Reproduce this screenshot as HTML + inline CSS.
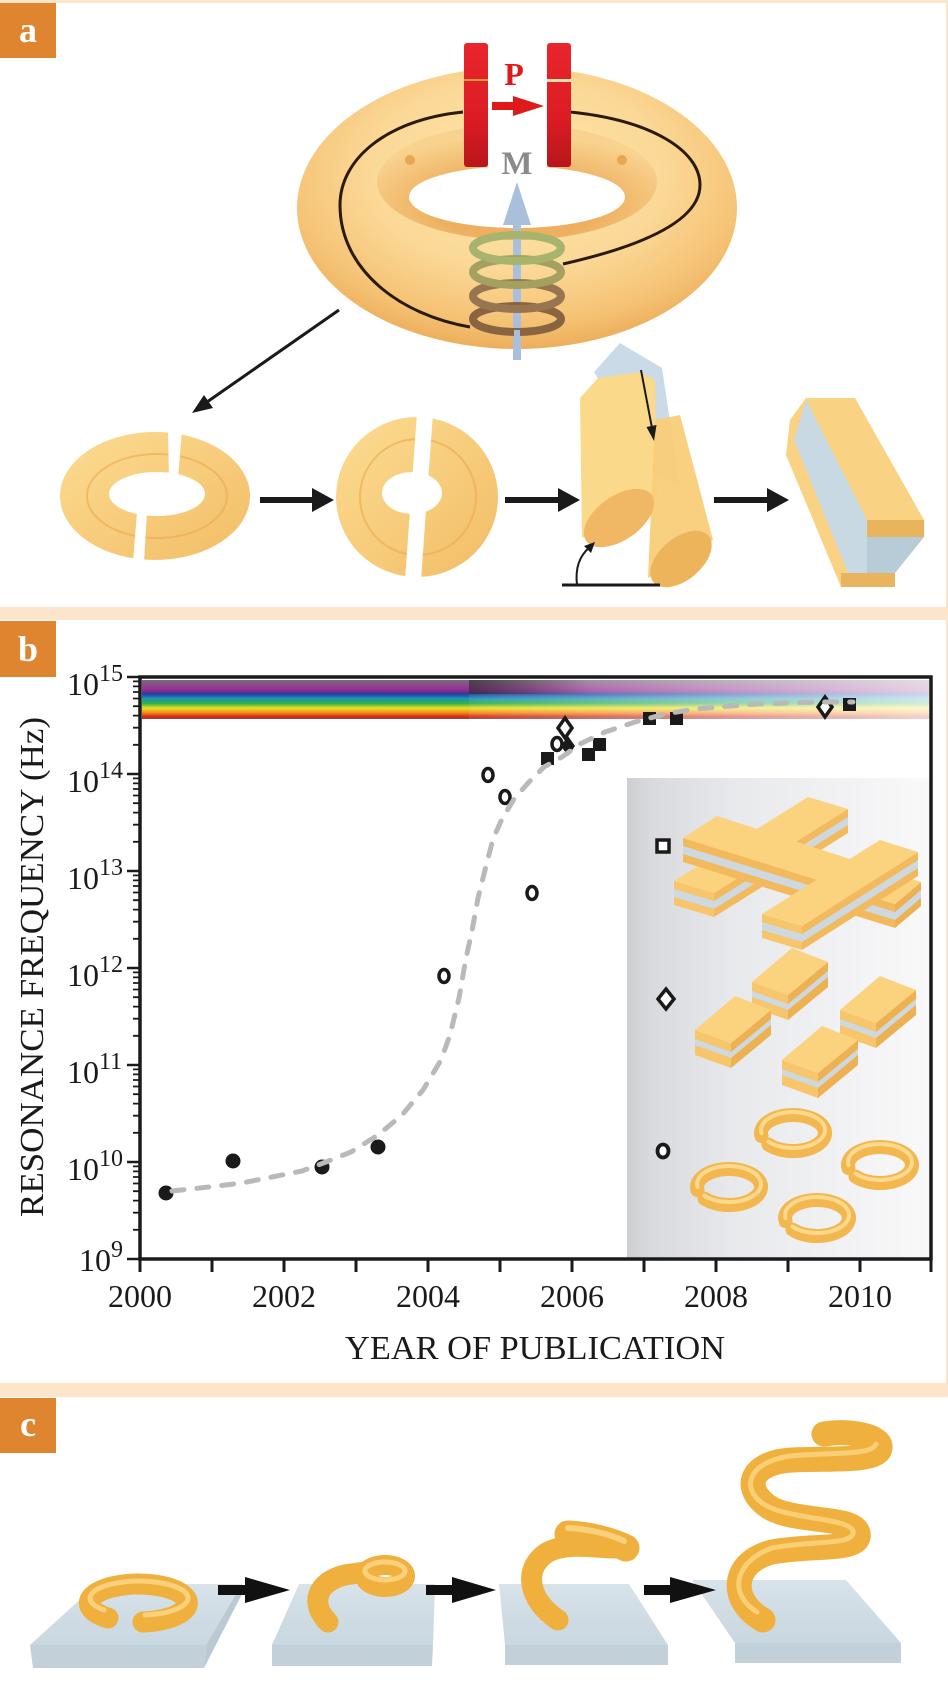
<!DOCTYPE html>
<html><head><meta charset="utf-8"><style>
html,body{margin:0;padding:0;background:#fff}
svg{display:block}
text{font-family:"Liberation Serif",serif}
</style></head><body>
<svg xmlns="http://www.w3.org/2000/svg" width="948" height="1691" viewBox="0 0 948 1691">
<defs>
<radialGradient id="tor" cx="0.5" cy="0.38" r="0.62">
<stop offset="0" stop-color="#fde8ae"/><stop offset="0.55" stop-color="#fbd896"/><stop offset="0.85" stop-color="#f5c274"/><stop offset="1" stop-color="#ecae5c"/></radialGradient>
<radialGradient id="inw" cx="0.5" cy="0.7" r="0.6">
<stop offset="0.5" stop-color="#eeb060"/><stop offset="1" stop-color="#f8d28e"/></radialGradient>
<linearGradient id="gold" x1="0" y1="0" x2="1" y2="1"><stop offset="0" stop-color="#fcdc92"/><stop offset="1" stop-color="#f2bd66"/></linearGradient>
<linearGradient id="red" x1="0" y1="0" x2="0" y2="1"><stop offset="0" stop-color="#e8262c"/><stop offset="0.6" stop-color="#dc1c24"/><stop offset="1" stop-color="#b8161c"/></linearGradient>
<linearGradient id="rain" x1="0" y1="0" x2="0" y2="1">
<stop offset="0" stop-color="#7a6a80"/><stop offset="0.12" stop-color="#8a4d8c"/><stop offset="0.25" stop-color="#9a2a8e"/><stop offset="0.36" stop-color="#2a3c9c"/><stop offset="0.48" stop-color="#1898b8"/><stop offset="0.6" stop-color="#30ae4a"/><stop offset="0.72" stop-color="#ece21e"/><stop offset="0.84" stop-color="#f28a1a"/><stop offset="0.94" stop-color="#d8261c"/><stop offset="1" stop-color="#8a4a40"/></linearGradient>
<linearGradient id="fade" x1="0" y1="0" x2="1" y2="0"><stop offset="0" stop-color="#fff" stop-opacity="0.08"/><stop offset="0.5" stop-color="#fff" stop-opacity="0.45"/><stop offset="1" stop-color="#fff" stop-opacity="0.78"/></linearGradient>
<linearGradient id="dark" x1="0" y1="0" x2="1" y2="0"><stop offset="0" stop-color="#222" stop-opacity="0.6"/><stop offset="1" stop-color="#222" stop-opacity="0"/></linearGradient>
<linearGradient id="inset" x1="0" y1="0" x2="1" y2="0"><stop offset="0" stop-color="#cdced2"/><stop offset="0.08" stop-color="#d9dade"/><stop offset="0.35" stop-color="#e8e9ec"/><stop offset="1" stop-color="#f9f9fa"/></linearGradient>
<linearGradient id="slab" x1="0" y1="0" x2="0" y2="1"><stop offset="0" stop-color="#d4e0e8"/><stop offset="1" stop-color="#c4d3dd"/></linearGradient>
</defs>

<!-- frame bands -->
<rect x="0" y="0" width="948" height="3" fill="#fde5cc"/>
<rect x="0" y="607" width="948" height="13" fill="#fde5cc"/>
<rect x="0" y="1383" width="948" height="14" fill="#fde5cc"/>
<rect x="946" y="0" width="2" height="1383" fill="#fde5cc"/>

<!-- labels -->
<rect x="0" y="3" width="56" height="55" fill="#e0852f"/>
<text x="28" y="42" font-size="36" font-weight="bold" fill="#fff" text-anchor="middle">a</text>
<rect x="0" y="621" width="56" height="56" fill="#e0852f"/>
<text x="28" y="661" font-size="36" font-weight="bold" fill="#fff" text-anchor="middle">b</text>
<rect x="0" y="1398" width="56" height="55" fill="#e0852f"/>
<text x="28" y="1436" font-size="36" font-weight="bold" fill="#fff" text-anchor="middle">c</text>

<!-- ===== PANEL A ===== -->
<ellipse cx="517" cy="208" rx="220" ry="141" fill="url(#tor)"/>
<ellipse cx="517" cy="182" rx="140" ry="58" fill="url(#inw)"/>
<ellipse cx="517" cy="197" rx="108" ry="31" fill="#fff"/>
<circle cx="410" cy="160" r="5" fill="#eaa650"/><circle cx="622" cy="160" r="5" fill="#eaa650"/>
<!-- slit -->
<path d="M463,112 C385,120 340,160 340,205 C340,270 400,315 470,327" fill="none" stroke="#2a1a0a" stroke-width="3"/>
<path d="M570,112 C650,120 700,150 700,185 C700,215 660,242 563,264" fill="none" stroke="#2a1a0a" stroke-width="3"/>
<!-- gap between plates -->
<rect x="488" y="55" width="59" height="112" fill="#fff"/>
<!-- plates -->
<rect x="464" y="43" width="24" height="124" rx="3" fill="url(#red)"/>
<rect x="547" y="43" width="24" height="124" rx="3" fill="url(#red)"/>
<rect x="464" y="79" width="24" height="2" fill="#f6a030"/>
<rect x="547" y="79" width="24" height="3" fill="#fbe0b0"/>
<text x="514" y="85" font-size="32" font-weight="bold" fill="#e01a1a" text-anchor="middle">P</text>
<rect x="492" y="102" width="26" height="8" fill="#e01a1a"/>
<polygon points="513,96 544,106 513,116" fill="#e01a1a"/>
<text x="517" y="174" font-size="33" font-weight="bold" fill="#8a8a8a" text-anchor="middle">M</text>
<!-- blue arrow -->
<rect x="513" y="220" width="8" height="140" fill="#a9bfdc"/>
<polygon points="517,182 503,225 531,225" fill="#a9bfdc"/>
<!-- coil -->
<ellipse cx="517" cy="319" rx="44" ry="13" fill="none" stroke="#8a6440" stroke-width="8"/>
<ellipse cx="517" cy="296" rx="44" ry="13" fill="none" stroke="#977550" stroke-width="8"/>
<ellipse cx="517" cy="272" rx="44" ry="13" fill="none" stroke="#a3a060" stroke-width="8"/>
<ellipse cx="517" cy="248" rx="44" ry="13" fill="none" stroke="#a8b46e" stroke-width="8"/>
<rect x="514" y="330" width="6" height="30" fill="#a9bfdc"/>

<!-- arrow to rings -->
<line x1="339" y1="310" x2="207" y2="402" stroke="#1a1a1a" stroke-width="3"/>
<polygon points="192,413 213,408 204,395" fill="#1a1a1a"/>

<!-- ring 1 -->
<path fill-rule="evenodd" fill="url(#gold)" d="M60,496 a95,64 0 1,0 190,0 a95,64 0 1,0 -190,0 Z M109,494 a48,22 0 1,0 96,0 a48,22 0 1,0 -96,0 Z"/>
<ellipse cx="157" cy="496" rx="70" ry="42" fill="none" stroke="#eda94e" stroke-width="2" opacity="0.6"/>
<polygon points="168,430 182,430 178,478 169,478" fill="#fff"/>
<polygon points="137,512 147,512 144,562 133,562" fill="#fff"/>
<!-- arrows -->
<rect x="260" y="497" width="55" height="6" fill="#1a1a1a"/><polygon points="312,488 334,500 312,512" fill="#1a1a1a"/>
<!-- ring 2 -->
<path fill-rule="evenodd" fill="url(#gold)" d="M336,497 a81,80 0 1,0 162,0 a81,80 0 1,0 -162,0 Z M382,493 a30,21 0 1,0 60,0 a30,21 0 1,0 -60,0 Z"/>
<ellipse cx="418" cy="497" rx="58" ry="58" fill="none" stroke="#eda94e" stroke-width="2" opacity="0.6"/>
<polygon points="417,413 433,413 421,580 405,580" fill="#fff"/>
<rect x="505" y="497" width="55" height="6" fill="#1a1a1a"/><polygon points="558,488 580,500 558,512" fill="#1a1a1a"/>
<!-- cylinders -->
<polygon points="594,372 620,343 662,368 680,488 655,470" fill="#c4d6e4" opacity="0.9"/>
<polygon points="580,398 598,378 640,372 655,380 657,500 582,538" fill="#fbd98a"/>
<polygon points="655,420 680,415 713,540 648,578" fill="#f8cd78" opacity="0.95"/>
<ellipse cx="681" cy="559" rx="36" ry="21" transform="rotate(-40 681 559)" fill="#edb45c"/>
<ellipse cx="619" cy="518" rx="40" ry="22" transform="rotate(-35 619 518)" fill="#f0b865"/>
<line x1="641" y1="370" x2="652" y2="428" stroke="#1a1a1a" stroke-width="2"/>
<polygon points="654,441 656.5,425 646.5,427" fill="#1a1a1a"/>
<line x1="562" y1="585" x2="660" y2="585" stroke="#1a1a1a" stroke-width="3"/>
<path d="M577,585 Q574,560 590,547" fill="none" stroke="#1a1a1a" stroke-width="2"/>
<polygon points="595,542 584,546 591,553" fill="#1a1a1a"/>
<rect x="714" y="497" width="55" height="6" fill="#1a1a1a"/><polygon points="767,488 789,500 767,512" fill="#1a1a1a"/>
<!-- bar -->
<polygon points="806,398 855,398 924,520 924,537 895,573 895,587 841,587 786,455 790,420" fill="#f9d283"/>
<polygon points="806,400 867,520 867,573 848,573 794,440" fill="#c9d9e4"/>
<polygon points="867,537 924,537 895,573 867,573" fill="#b8ccd8"/>
<polygon points="867,520 924,520 924,537 867,537" fill="#e8b55e"/>
<polygon points="841,573 895,573 895,587 841,587" fill="#e8b55e"/>

<!-- ===== PANEL B ===== -->
<!-- rainbow -->
<rect x="142" y="680" width="327" height="39" fill="url(#rain)"/>
<rect x="469" y="680" width="460" height="39" fill="url(#rain)"/>
<rect x="469" y="680" width="460" height="39" fill="url(#fade)"/>
<rect x="469" y="680" width="120" height="14" fill="url(#dark)"/>
<!-- inset -->
<rect x="627" y="778" width="303" height="480" fill="url(#inset)"/>
<!-- fishnet (wider arms, taller sides) -->
<g>
<!-- bar d2A: P(694,887) Q(828,803), offset (20,6) -->
<polygon points="714,893 848,809 848,833 714,917" fill="#f2ba5c"/>
<polygon points="714,901 848,817 848,825 714,909" fill="#cdd8df"/>
<polygon points="674,881 714,893 714,917 674,905" fill="#f6c56c"/>
<polygon points="674,889 714,901 714,909 674,897" fill="#cdd8df"/>
<polygon points="674,881 808,797 848,809 714,893" fill="#fbd27e"/>
<!-- bar d1: P(700,827) Q(912,893), offset (17,-11) -->
<polygon points="683,838 895,904 895,928 683,862" fill="#f2ba5c"/>
<polygon points="683,846 895,912 895,920 683,854" fill="#cdd8df"/>
<polygon points="921,882 895,904 895,928 921,906" fill="#eeb152"/>
<polygon points="921,890 895,912 895,920 921,898" fill="#cdd8df"/>
<polygon points="717,816 921,882 895,904 683,838" fill="#fbd27e"/>
<!-- bar d2B: P(782,920) Q(900,846) -->
<polygon points="802,926 918,852 918,876 802,950" fill="#f2ba5c"/>
<polygon points="802,934 918,860 918,868 802,942" fill="#cdd8df"/>
<polygon points="762,914 802,926 802,950 762,938" fill="#f6c56c"/>
<polygon points="762,922 802,934 802,942 762,930" fill="#cdd8df"/>
<polygon points="762,914 880,840 918,852 802,926" fill="#fbd27e"/>
</g>
<!-- cut-wire blocks -->
<g>
<polygon points="752,982 788,995 788,1020 752,1007" fill="#f6c56c"/><polygon points="752,991 788,1004 788,1010 752,997" fill="#cdd8df"/>
<polygon points="788,995 828,962 828,987 788,1020" fill="#eeb152"/><polygon points="788,1004 828,971 828,977 788,1010" fill="#cdd8df"/>
<polygon points="752,982 792,948 828,962 788,995" fill="#fbd27e"/>
<polygon points="840,1010 876,1023 876,1048 840,1035" fill="#f6c56c"/><polygon points="840,1019 876,1032 876,1038 840,1025" fill="#cdd8df"/>
<polygon points="876,1023 916,990 916,1015 876,1048" fill="#eeb152"/><polygon points="876,1032 916,999 916,1005 876,1038" fill="#cdd8df"/>
<polygon points="840,1010 880,976 916,990 876,1023" fill="#fbd27e"/>
<polygon points="695,1030 731,1043 731,1068 695,1055" fill="#f6c56c"/><polygon points="695,1039 731,1052 731,1058 695,1045" fill="#cdd8df"/>
<polygon points="731,1043 771,1010 771,1035 731,1068" fill="#eeb152"/><polygon points="731,1052 771,1019 771,1025 731,1058" fill="#cdd8df"/>
<polygon points="695,1030 735,996 771,1010 731,1043" fill="#fbd27e"/>
<polygon points="782,1060 818,1073 818,1098 782,1085" fill="#f6c56c"/><polygon points="782,1069 818,1082 818,1088 782,1075" fill="#cdd8df"/>
<polygon points="818,1073 858,1040 858,1065 818,1098" fill="#eeb152"/><polygon points="818,1082 858,1049 858,1055 818,1088" fill="#cdd8df"/>
<polygon points="782,1060 822,1026 858,1040 818,1073" fill="#fbd27e"/>
</g>
<!-- inset rings -->
<g fill="none" stroke-linecap="round">
<path d="M761.5,1136.1 A32 18 0 1 1 768.5,1144.6" stroke="#f2b84f" stroke-width="14"/>
<path d="M761.5,1133.1 A32 18 0 1 1 768.5,1141.6" stroke="#fcd98d" stroke-width="4"/>
<path d="M848.5,1168.1 A32 18 0 1 1 855.5,1176.6" stroke="#f2b84f" stroke-width="14"/>
<path d="M848.5,1165.1 A32 18 0 1 1 855.5,1173.6" stroke="#fcd98d" stroke-width="4"/>
<path d="M697.5,1190.1 A32 18 0 1 1 704.5,1198.6" stroke="#f2b84f" stroke-width="14"/>
<path d="M697.5,1187.1 A32 18 0 1 1 704.5,1195.6" stroke="#fcd98d" stroke-width="4"/>
<path d="M785.5,1221.1 A32 18 0 1 1 792.5,1229.6" stroke="#f2b84f" stroke-width="14"/>
<path d="M785.5,1218.1 A32 18 0 1 1 792.5,1226.6" stroke="#fcd98d" stroke-width="4"/>
</g>
<!-- inset legend markers -->
<rect x="657" y="840" width="12" height="12" fill="#fff" stroke="#1a1a1a" stroke-width="3.5"/>
<polygon points="666,989 674,999 666,1009 658,999" fill="#fff" stroke="#1a1a1a" stroke-width="3.5"/>
<ellipse cx="663" cy="1151" rx="5.5" ry="6.5" fill="#fff" stroke="#1a1a1a" stroke-width="3.8"/>

<!-- data markers -->
<g fill="#1a1a1a">
<circle cx="166" cy="1193" r="7.5"/><circle cx="233" cy="1161" r="7.5"/><circle cx="322" cy="1167" r="7.5"/><circle cx="378" cy="1147" r="7.5"/>
<rect x="541" y="752" width="13" height="13"/><rect x="582" y="748" width="13" height="13"/><rect x="593" y="738" width="13" height="13"/>
<rect x="643" y="712" width="13" height="13"/><rect x="670" y="712" width="13" height="13"/><rect x="843" y="698" width="13" height="13"/>
<polygon points="568,736 575,746 568,756 561,746"/>
</g>
<g fill="#fff" stroke="#1a1a1a" stroke-width="3.5">
<ellipse cx="444" cy="976" rx="5" ry="6.5"/><ellipse cx="488" cy="775" rx="5" ry="6.5"/><ellipse cx="505" cy="797" rx="5" ry="6.5"/>
<ellipse cx="532" cy="893" rx="5" ry="6.5"/><ellipse cx="557" cy="744" rx="5" ry="6.5"/>
<polygon points="565,718 572,728 565,738 558,728"/><polygon points="825,697 832,707 825,717 818,707"/>
</g>
<!-- fit curve -->
<path d="M172,1191 L209,1187 L242,1183 L272,1177 L302,1171 L326,1162 L351,1152 L378,1135 L402,1115 L423,1090 L441,1060 L450,1035 L459,998 L466,958 L472,931 L478,898 L484,874 L493,839 L502,819 L514,799 L529,782 L544,767 L562,757 L580,744 L605,732 L635,722 L665,714 L695,709 L756,704 L816,702 L853,702" fill="none" stroke="#b9b9b9" stroke-width="5" stroke-dasharray="12 13" stroke-linecap="round" stroke-linejoin="round"/>

<!-- axes -->
<rect x="140" y="677" width="791" height="582" fill="none" stroke="#1a1a1a" stroke-width="3.5"/>
<path stroke="#1a1a1a" stroke-width="2.5" fill="none" d="M127,677h13M127,774h13M127,871h13M127,968h13M127,1065h13M127,1162h13M127,1259h13"/>
<path stroke="#1a1a1a" stroke-width="1.8" fill="none" d="
M133,1229.8h7M133,1212.7h7M133,1200.6h7M133,1191.2h7M133,1183.5h7M133,1177h7M133,1171.4h7M133,1166.4h7
M133,1132.8h7M133,1115.7h7M133,1103.6h7M133,1094.2h7M133,1086.5h7M133,1080h7M133,1074.4h7M133,1069.4h7
M133,1035.8h7M133,1018.7h7M133,1006.6h7M133,997.2h7M133,989.5h7M133,983h7M133,977.4h7M133,972.4h7
M133,938.8h7M133,921.7h7M133,909.6h7M133,900.2h7M133,892.5h7M133,886h7M133,880.4h7M133,875.4h7
M133,841.8h7M133,824.7h7M133,812.6h7M133,803.2h7M133,795.5h7M133,789h7M133,783.4h7M133,778.4h7
M133,744.8h7M133,727.7h7M133,715.6h7M133,706.2h7M133,698.5h7M133,692h7M133,686.4h7M133,681.4h7"/>
<path stroke="#1a1a1a" stroke-width="3" fill="none" d="M140,1259v13M212,1259v13M284,1259v13M356,1259v13M428,1259v13M500,1259v13M572,1259v13M644,1259v13M716,1259v13M788,1259v13M860,1259v13M931,1259v13"/>

<!-- y labels -->
<g font-size="32" fill="#1a1a1a" text-anchor="end">
<text x="99" y="695">10</text><text x="99" y="792">10</text><text x="99" y="889">10</text><text x="99" y="986">10</text><text x="99" y="1083">10</text><text x="99" y="1180">10</text><text x="111" y="1271">10</text>
</g>
<g font-size="24" fill="#1a1a1a">
<text x="99" y="681">15</text><text x="99" y="778">14</text><text x="99" y="875">13</text><text x="99" y="972">12</text><text x="99" y="1069">11</text><text x="99" y="1166">10</text><text x="111" y="1257">9</text>
</g>
<!-- x labels -->
<g font-size="32" fill="#1a1a1a" text-anchor="middle">
<text x="140" y="1307">2000</text><text x="284" y="1307">2002</text><text x="428" y="1307">2004</text><text x="572" y="1307">2006</text><text x="716" y="1307">2008</text><text x="860" y="1307">2010</text>
</g>
<text x="535" y="1359" font-size="34" fill="#1a1a1a" text-anchor="middle" textLength="380" lengthAdjust="spacingAndGlyphs">YEAR OF PUBLICATION</text>
<text transform="translate(43,967) rotate(-90)" font-size="34" fill="#1a1a1a" text-anchor="middle" textLength="500" lengthAdjust="spacingAndGlyphs">RESONANCE FREQUENCY (Hz)</text>

<!-- ===== PANEL C ===== -->
<g opacity="0.9">
<polygon points="97,1584 242,1584 206,1645 30,1645" fill="url(#slab)"/>
<polygon points="30,1645 206,1645 204,1668 33,1668" fill="#bccbd6"/>
<polygon points="242,1584 242,1594 204,1668 206,1645" fill="#b4c4cf"/>
<polygon points="299,1584 435,1584 433,1645 272,1645" fill="url(#slab)"/>
<polygon points="272,1645 433,1645 432,1666 272,1666" fill="#bccbd6"/>
<polygon points="499,1584 629,1584 668,1645 505,1645" fill="url(#slab)"/>
<polygon points="505,1645 668,1645 668,1665 505,1665" fill="#bccbd6"/>
<polygon points="692,1580 846,1580 901,1643 735,1643" fill="url(#slab)"/>
<polygon points="735,1643 901,1643 901,1663 735,1663" fill="#bccbd6"/>
</g>
<!-- arrows -->
<g fill="#111">
<rect x="218" y="1585" width="30" height="10"/><polygon points="245,1577 290,1590 245,1603"/>
<rect x="426" y="1585" width="30" height="10"/><polygon points="452,1577 496,1590 452,1603"/>
<rect x="644" y="1585" width="30" height="10"/><polygon points="670,1577 716,1590 670,1603"/>
</g>
<!-- gold tubes -->
<g fill="none" stroke-linecap="round">
<path d="M108,1618 A49 19 0 1 1 143,1622" stroke="#efb03e" stroke-width="21"/>
<path d="M104,1610 A49 17 0 1 1 145,1615" stroke="#fcd98a" stroke-width="5" opacity="0.8"/>
<path d="M328,1622 C310,1604 316,1582 345,1575 L365,1572" stroke="#efb03e" stroke-width="21"/>
<ellipse cx="385" cy="1576" rx="20" ry="11" stroke="#efb03e" stroke-width="20"/>
<ellipse cx="385" cy="1571" rx="20" ry="9" stroke="#fcd98a" stroke-width="5" opacity="0.8"/>
<path d="M558,1620 C528,1600 522,1568 548,1552 C568,1542 595,1548 615,1548" stroke="#efb03e" stroke-width="21"/>
<path d="M568,1534 C590,1535 612,1541 626,1548" stroke="#efb03e" stroke-width="27"/>
<path d="M568,1528 C590,1529 612,1535 624,1541" stroke="#fcd98a" stroke-width="6" opacity="0.8"/>
<path d="M763,1620 C728,1600 732,1562 772,1552 C815,1544 862,1552 858,1533 C853,1515 790,1524 766,1505 C742,1486 752,1462 792,1460 C832,1458 878,1462 880,1448 C882,1436 850,1430 824,1434" stroke="#efb03e" stroke-width="25"/>
<path d="M757,1612 C728,1594 734,1562 772,1548 C812,1540 856,1546 853,1531 C848,1517 786,1520 762,1503 C740,1486 750,1462 790,1456 C830,1452 872,1456 876,1444" stroke="#fcd98a" stroke-width="5" opacity="0.75"/>
</g>
</svg>
</body></html>
